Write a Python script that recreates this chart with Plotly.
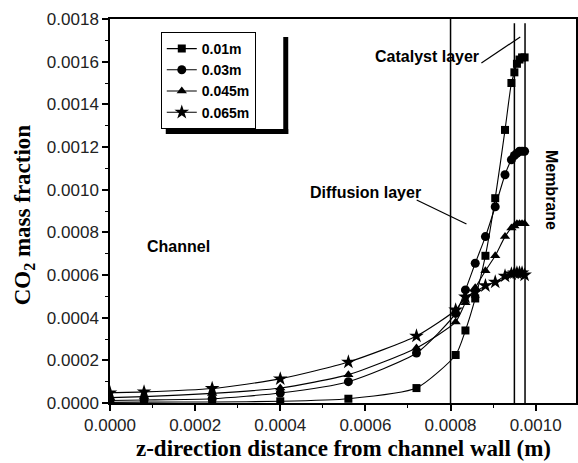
import plotly.graph_objects as go

# ---- data ----
z = [0.0, 0.00008, 0.00024, 0.0004, 0.00056, 0.00072,
     0.000812, 0.000835, 0.000858, 0.000882, 0.000905, 0.000928, 0.000943,
     0.00095, 0.000956, 0.000962, 0.000968, 0.000974]
co2_001 = [0.000003, 0.000004, 0.000005, 0.000008, 0.00002, 0.00007,
           0.000225, 0.00034, 0.00049, 0.00069, 0.00096, 0.00128, 0.0015,
           0.00155, 0.00159, 0.00161, 0.00162, 0.00162]
co2_003 = [0.000012, 0.000014, 0.00002, 0.000047, 0.0001, 0.000234,
           0.00042, 0.00053, 0.000655, 0.00078, 0.00092, 0.00107, 0.00114,
           0.00116, 0.00117, 0.00118, 0.00118, 0.00118]
co2_0045 = [0.000025, 0.00003, 0.000045, 0.00007, 0.000133, 0.000258,
            0.00038, 0.00047, 0.00054, 0.00062, 0.00069, 0.00078, 0.00082,
            0.00083, 0.00084, 0.00084, 0.00084, 0.00084]
co2_0065 = [0.000048, 0.000052, 0.000068, 0.000113, 0.000192, 0.000314,
            0.000436, 0.000497, 0.00052, 0.00055, 0.000567, 0.000595, 0.000605,
            0.00061, 0.00061, 0.00061, 0.00061, 0.0006]
series_names = ["0.01m", "0.03m", "0.045m", "0.065m"]
series_vals = [co2_001, co2_003, co2_0045, co2_0065]
symbols = ["square", "circle", "triangle-up", "star"]
msizes = [8, 9, 9, 11]

layer_bounds = [0.0008, 0.00095, 0.000975]
x_ticks = [0.0, 0.0002, 0.0004, 0.0006, 0.0008, 0.0010]
y_ticks = [0.0, 0.0002, 0.0004, 0.0006, 0.0008, 0.0010, 0.0012, 0.0014, 0.0016, 0.0018]

W, H = 578, 463
L, R, T, B = 110, 0, 19, 60
XMAX = (W - L - R) / 427.5 * 0.001
YMAX = 0.0018

def px2x(px):
    return (px - L) / 427.5 * 0.001

def py2y(py):
    return (403 - py) / 213.33 * 0.001

def pxp(px):
    return (px - L) / (W - L - R)

def pyp(py):
    return (403 - py) / (H - T - B)

fig = go.Figure()
for name, vals, sym, ms in zip(series_names, series_vals, symbols, msizes):
    fig.add_trace(go.Scatter(
        x=z, y=vals, name=name, mode="lines+markers",
        line=dict(color="black", width=1.1, shape="spline", smoothing=0.6),
        marker=dict(symbol=sym, size=ms, color="black"),
    ))

shapes = []
for xb in layer_bounds:
    shapes.append(dict(type="line", xref="x", yref="y", x0=xb, x1=xb,
                       y0=0, y1=(YMAX if xb == layer_bounds[0] else 0.00178),
                       line=dict(color="black", width=1.5)))
# pointer lines for labels
shapes.append(dict(type="line", xref="x", yref="y", x0=px2x(483), y0=py2y(63),
                   x1=px2x(522), y1=py2y(37), line=dict(color="black", width=1.2)))
shapes.append(dict(type="line", xref="x", yref="y", x0=px2x(418), y0=py2y(200),
                   x1=px2x(468), y1=py2y(224), line=dict(color="black", width=1.2)))
# legend shadow
shapes.append(dict(type="rect", xref="paper", yref="paper", x0=pxp(284), x1=pxp(289),
                   y0=pyp(134), y1=pyp(37), fillcolor="black", line=dict(width=0)))
shapes.append(dict(type="rect", xref="paper", yref="paper", x0=pxp(166), x1=pxp(289),
                   y0=pyp(134), y1=pyp(129), fillcolor="black", line=dict(width=0)))

bold = dict(family="Liberation Sans, Arial", size=16, color="black", weight="bold")
legfont = dict(family="Liberation Sans, Arial", size=14, color="black", weight="bold")
serif = dict(family="Liberation Serif, Times New Roman", size=23, color="black", weight="bold")
annotations = [
    dict(text="Catalyst layer", x=px2x(483), y=py2y(57), xref="x", yref="y",
         xanchor="right", yanchor="middle", showarrow=False, font=bold),
    dict(text="Diffusion layer", x=px2x(424), y=py2y(192), xref="x", yref="y",
         xanchor="right", yanchor="middle", showarrow=False, font=bold),
    dict(text="Channel", x=px2x(145), y=py2y(246), xref="x", yref="y",
         xanchor="left", yanchor="middle", showarrow=False, font=bold),
    dict(text="Membrane", x=px2x(554), y=py2y(190), xref="x", yref="y",
         xanchor="center", yanchor="middle", showarrow=False, font=bold, textangle=90),
    dict(text="z-direction distance from channel wall (m)", x=pxp(345), y=pyp(448),
         xref="paper", yref="paper", xanchor="center", yanchor="middle", showarrow=False,
         font=serif),
    dict(text="CO<sub>2</sub> mass fraction", x=pxp(24), y=pyp(215),
         xref="paper", yref="paper", xanchor="center", yanchor="middle", showarrow=False,
         textangle=-90, font=serif),
]

fig.update_layout(
    width=W, height=H,
    margin=dict(l=L, r=R, t=T, b=B),
    plot_bgcolor="white", paper_bgcolor="white",
    shapes=shapes, annotations=annotations,
    showlegend=True,
    legend=dict(x=pxp(161), y=pyp(32), xanchor="left", yanchor="top",
                bgcolor="white", bordercolor="black", borderwidth=1,
                font=legfont, itemwidth=30, tracegroupgap=0),
    xaxis=dict(range=[0, XMAX], tickvals=x_ticks, ticktext=[f"{v:.4f}" for v in x_ticks],
               showgrid=False, zeroline=False, showline=True, linecolor="black", linewidth=1.5,
               mirror=True, ticks="outside", ticklen=6, tickwidth=1.5, tickcolor="black",
               minor=dict(dtick=0.0001, ticks="outside", ticklen=3, tickcolor="black", tickwidth=1),
               tickfont=dict(family="Liberation Sans, Arial", size=17, color="#222")),
    yaxis=dict(range=[0, YMAX], tickvals=y_ticks, ticktext=[f"{v:.4f}" for v in y_ticks],
               showgrid=False, zeroline=False, showline=True, linecolor="black", linewidth=1.5,
               mirror=True, ticks="outside", ticklen=6, tickwidth=1.5, tickcolor="black",
               minor=dict(dtick=0.0001, ticks="outside", ticklen=3, tickcolor="black", tickwidth=1),
               tickfont=dict(family="Liberation Sans, Arial", size=17, color="#222")),
)

fig.write_html("out.html")
